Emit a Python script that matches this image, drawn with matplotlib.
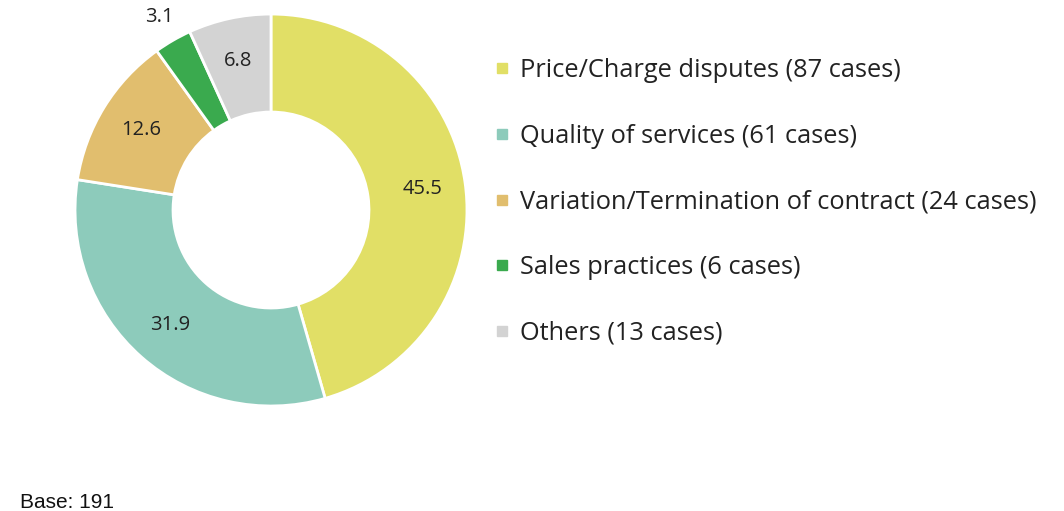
import matplotlib
matplotlib.use("Agg")
import matplotlib.pyplot as plt
from matplotlib.lines import Line2D
import numpy as np

# share of complaints (%) and case counts
categories = ["Price/Charge disputes", "Quality of services",
              "Variation/Termination of contract", "Sales practices", "Others"]
cases = [87, 61, 24, 6, 13]
shares = [45.5, 31.9, 12.6, 3.1, 6.8]
colors = ["#E1DF66", "#8DCBBB", "#E1BE6E", "#3AAA4E", "#D3D3D3"]
base_n = 191

fig = plt.figure(figsize=(10.64, 5.11), dpi=100)
ax = fig.add_axes([0.0705, 0.2055, 0.3684, 0.767])

wedges, _ = ax.pie(shares, colors=colors, startangle=90, counterclock=False,
                   radius=1.0, wedgeprops=dict(width=0.5, edgecolor="white", linewidth=2))
ax.set_aspect("equal")
ax.set_xlim(-1, 1)
ax.set_ylim(-1, 1)

# value labels
total = sum(shares)
cum = 0
for i, v in enumerate(shares):
    mid = 90 - (cum + v / 2) / total * 360
    cum += v
    r = 0.78
    if v < 5:
        r = 1.14
    x = r * np.cos(np.radians(mid))
    y = r * np.sin(np.radians(mid))
    ax.text(x, y, f"{v:.1f}", ha="center", va="center", fontsize=14.5,
            family="Open Sans", color="#222222", clip_on=False)

handles = [Line2D([0], [0], marker="s", linestyle="", markersize=7.5,
                  markerfacecolor=c, markeredgecolor=c) for c in colors]
labels = [f"{c} ({n} cases)" for c, n in zip(categories, cases)]
fig.legend(handles, labels, loc="upper left", bbox_to_anchor=(0.4624, 0.886),
           frameon=False, prop=dict(family="Open Sans", size=18.3),
           labelspacing=1.6, handletextpad=0.31, handlelength=0.8,
           borderaxespad=0, borderpad=0, labelcolor="#222222")

fig.text(0.019, 0.005, f"Base: {base_n}", family="Liberation Sans", fontsize=15,
         color="#111111")

fig.savefig("out.png", dpi=100)
